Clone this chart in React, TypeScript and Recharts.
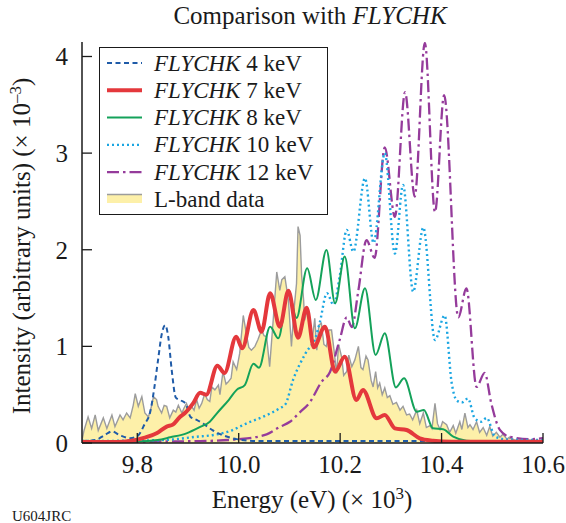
import React from "react";
import { ComposedChart, Line, Area, XAxis, YAxis, Legend } from "recharts";

const energyTicks = [9.8, 10.0, 10.2, 10.4, 10.6];
const intensityTicks = [0, 1, 2, 3, 4];

// L-band measurement, [energy (keV), intensity (x1e-3)]
const lBand: [number, number][] = [
  [9.691, 0.03], [9.695, 0.13], [9.703, 0.27], [9.71, 0.15], [9.717, 0.29], [9.723, 0.13],
  [9.733, 0.26], [9.74, 0.15], [9.75, 0.29], [9.756, 0.17], [9.766, 0.29], [9.772, 0.24],
  [9.779, 0.31], [9.786, 0.26], [9.792, 0.39], [9.796, 0.51], [9.802, 0.38], [9.809, 0.48],
  [9.815, 0.31], [9.822, 0.27], [9.828, 0.38], [9.832, 0.48], [9.838, 0.45], [9.841, 0.38],
  [9.848, 0.31], [9.853, 0.39], [9.858, 0.38], [9.864, 0.26], [9.871, 0.34], [9.876, 0.32],
  [9.881, 0.39], [9.888, 0.31], [9.892, 0.36], [9.897, 0.41], [9.902, 0.34], [9.907, 0.38],
  [9.912, 0.34], [9.917, 0.45], [9.922, 0.36], [9.927, 0.41], [9.933, 0.51], [9.938, 0.45],
  [9.943, 0.43], [9.947, 0.58], [9.953, 0.55], [9.96, 0.6], [9.963, 0.5], [9.969, 0.74],
  [9.975, 0.61], [9.979, 0.63], [9.985, 0.67], [9.989, 0.84], [9.996, 0.76], [10.002, 0.93],
  [10.009, 1.32], [10.016, 1.1], [10.02, 0.99], [10.025, 0.96], [10.032, 1.0], [10.038, 1.07],
  [10.045, 1.17], [10.05, 1.11], [10.055, 1.1], [10.061, 0.79], [10.068, 1.27], [10.075, 1.77],
  [10.081, 1.58], [10.085, 1.69], [10.091, 1.72], [10.098, 1.48], [10.104, 1.0], [10.109, 1.38],
  [10.114, 1.65], [10.117, 2.24], [10.121, 2.15], [10.124, 1.74], [10.128, 1.48], [10.13, 1.27],
  [10.134, 1.36], [10.14, 1.25], [10.145, 1.07], [10.15, 1.29], [10.154, 0.96], [10.158, 1.22],
  [10.163, 1.24], [10.168, 1.02], [10.173, 1.0], [10.178, 1.17], [10.183, 1.17], [10.188, 0.96],
  [10.193, 0.72], [10.197, 1.02], [10.203, 0.89], [10.207, 0.7], [10.213, 0.74], [10.217, 0.91],
  [10.223, 0.79], [10.229, 0.86], [10.236, 1.0], [10.241, 0.78], [10.245, 0.76], [10.251, 0.9],
  [10.255, 0.86], [10.261, 0.65], [10.265, 0.58], [10.27, 0.74], [10.274, 0.57], [10.278, 0.62],
  [10.283, 0.5], [10.288, 0.57], [10.293, 0.47], [10.298, 0.49], [10.304, 0.4], [10.311, 0.42],
  [10.318, 0.34], [10.324, 0.38], [10.331, 0.29], [10.337, 0.3], [10.343, 0.24], [10.351, 0.34],
  [10.357, 0.2], [10.364, 0.31], [10.37, 0.16], [10.377, 0.18], [10.381, 0.15], [10.387, 0.41],
  [10.392, 0.2], [10.397, 0.14], [10.402, 0.22], [10.41, 0.19], [10.416, 0.11], [10.423, 0.18],
  [10.428, 0.1], [10.436, 0.22], [10.44, 0.14], [10.446, 0.31], [10.452, 0.16], [10.456, 0.19],
  [10.462, 0.14], [10.469, 0.22], [10.475, 0.11], [10.482, 0.16], [10.489, 0.08], [10.495, 0.17],
  [10.501, 0.07], [10.508, 0.11], [10.515, 0.06], [10.521, 0.09], [10.529, 0.04], [10.534, 0.06],
  [10.544, 0.03], [10.554, 0.03], [10.574, 0.03], [10.6, 0.02],
];

// FLYCHK model spectra
const flychk4: [number, number][] = [
  [9.691, 0.02], [9.717, 0.03], [9.735, 0.08], [9.75, 0.12], [9.766, 0.08], [9.786, 0.05],
  [9.8, 0.07], [9.815, 0.2], [9.825, 0.31], [9.833, 0.55], [9.841, 0.86], [9.848, 1.12],
  [9.855, 1.22], [9.861, 1.1], [9.868, 0.75], [9.876, 0.47], [9.886, 0.44], [9.895, 0.41],
  [9.905, 0.27], [9.917, 0.24], [9.93, 0.2], [9.949, 0.13], [9.969, 0.08], [9.996, 0.04],
  [10.04, 0.02], [10.6, 0.02],
];

const flychk7: [number, number][] = [
  [9.691, 0.01], [9.76, 0.01], [9.786, 0.02], [9.811, 0.05], [9.838, 0.1], [9.858, 0.17],
  [9.87, 0.19], [9.884, 0.27], [9.894, 0.31], [9.91, 0.41], [9.924, 0.52], [9.936, 0.5],
  [9.958, 0.8], [9.972, 0.725], [9.995, 1.1], [10.007, 0.98], [10.029, 1.377], [10.045, 1.152],
  [10.062, 1.55], [10.081, 1.204], [10.098, 1.575], [10.117, 1.09], [10.134, 1.4], [10.148, 0.99],
  [10.17, 1.204], [10.19, 0.738], [10.209, 0.893], [10.232, 0.445], [10.245, 0.549], [10.272, 0.256],
  [10.288, 0.29], [10.308, 0.152], [10.331, 0.135], [10.357, 0.049], [10.383, 0.024], [10.42, 0.012],
  [10.6, 0.012],
];

const flychk8: [number, number][] = [
  [9.691, 0.01], [9.8, 0.015], [9.84, 0.03], [9.865, 0.059], [9.897, 0.1], [9.924, 0.166],
  [9.943, 0.22], [9.957, 0.307], [9.981, 0.45], [9.996, 0.55], [10.012, 0.6], [10.029, 0.82],
  [10.04, 0.78], [10.062, 1.204], [10.078, 1.084], [10.098, 1.566], [10.114, 1.294], [10.135, 1.808],
  [10.152, 1.48], [10.173, 1.998], [10.19, 1.446], [10.209, 1.929], [10.229, 1.187], [10.249, 1.601],
  [10.27, 0.911], [10.288, 1.136], [10.31, 0.575], [10.326, 0.67], [10.351, 0.324], [10.365, 0.342],
  [10.383, 0.152], [10.403, 0.142], [10.423, 0.065], [10.449, 0.024], [10.5, 0.015], [10.6, 0.015],
];

const flychk10: [number, number][] = [
  [9.691, 0.02], [9.85, 0.03], [9.917, 0.065], [9.95, 0.083], [9.983, 0.124], [10.016, 0.204],
  [10.048, 0.272], [10.081, 0.36], [10.092, 0.4], [10.107, 0.65], [10.132, 0.93], [10.152, 1.1],
  [10.16, 1.25], [10.174, 1.55], [10.187, 1.43], [10.199, 1.72], [10.213, 2.205], [10.226, 1.98],
  [10.249, 2.74], [10.266, 2.07], [10.288, 3.0], [10.308, 1.96], [10.324, 2.67], [10.344, 1.566],
  [10.364, 2.23], [10.387, 1.066], [10.406, 1.32], [10.42, 0.62], [10.43, 0.44], [10.44, 0.42],
  [10.452, 0.46], [10.465, 0.26], [10.478, 0.22], [10.489, 0.26], [10.505, 0.07], [10.53, 0.035],
  [10.6, 0.03],
];

const flychk12: [number, number][] = [
  [9.691, 0.01], [9.825, 0.015], [9.924, 0.02], [10.002, 0.04], [10.055, 0.09], [10.081, 0.166],
  [10.101, 0.22], [10.121, 0.32], [10.14, 0.42], [10.163, 0.63], [10.18, 0.735], [10.199, 1.066],
  [10.213, 1.3], [10.223, 1.2], [10.236, 1.58], [10.252, 2.1], [10.268, 1.915], [10.288, 3.06],
  [10.308, 2.34], [10.328, 3.63], [10.347, 2.55], [10.367, 4.14], [10.387, 2.39], [10.405, 3.6],
  [10.433, 1.3], [10.449, 1.6], [10.469, 0.58], [10.485, 0.725], [10.498, 0.41], [10.515, 0.135],
  [10.534, 0.065], [10.574, 0.04], [10.6, 0.05],
];

const toRows = (pts: [number, number][]) => pts.map(([e, v]) => ({ e, v }));

const SERIF = "'Liberation Serif', 'Times New Roman', serif";
const INK = "#1a1a1a";
const LBAND_FILL = "#fdf0a9";
const LBAND_LINE = "#9c9c9c";

const models = [
  { name: "4 keV", pts: flychk4, color: "#1f5ba8", width: 2, dash: "5 3.5" },
  { name: "7 keV", pts: flychk7, color: "#e4383c", width: 4, dash: undefined },
  { name: "8 keV", pts: flychk8, color: "#14a25a", width: 2, dash: undefined },
  { name: "10 keV", pts: flychk10, color: "#1ba6e2", width: 2.4, dash: "2 3" },
  { name: "12 keV", pts: flychk12, color: "#953b9b", width: 2.3, dash: "12 4 2.5 4" },
];
// drawing order: thick red last so it sits on top
const drawOrder = [4, 3, 0, 2, 1];

function LegendBox() {
  const rowY = (i: number) => 15 + i * 27.3;
  return (
    <div
      style={{
        width: 229,
        height: 168,
        boxSizing: "border-box",
        border: `1.5px solid ${INK}`,
        background: "#fff",
      }}
    >
      <svg width={226} height={165} style={{ display: "block" }}>
        {models.map((m, i) => (
          <g key={m.name}>
            <line
              x1={7}
              x2={42}
              y1={rowY(i)}
              y2={rowY(i)}
              stroke={m.color}
              strokeWidth={m.width}
              strokeDasharray={m.dash}
            />
            <text x={54} y={rowY(i) + 7.5} fontFamily={SERIF} fontSize={23} fill={INK}>
              <tspan fontStyle="italic">FLYCHK</tspan> {m.name}
            </text>
          </g>
        ))}
        <rect x={7} y={rowY(5) - 5} width={35} height={8.5} fill={LBAND_FILL} />
        <line x1={7} x2={42} y1={rowY(5) - 5} y2={rowY(5) - 5} stroke={LBAND_LINE} strokeWidth={1.5} />
        <text x={54} y={rowY(5) + 7.5} fontFamily={SERIF} fontSize={23} fill={INK}>
          L-band data
        </text>
      </svg>
    </div>
  );
}

export default function App() {
  const tickStyle = { fontFamily: SERIF, fontSize: 25, fill: INK };
  const axisLine = { stroke: INK, strokeWidth: 1.5 };
  const tickLine = { stroke: INK, strokeWidth: 1.3 };

  return (
    <div style={{ position: "absolute", left: 0, top: 0, width: 566, height: 523, background: "#fff" }}>
      <ComposedChart width={566} height={523} margin={{ top: 42, right: 23, bottom: 40, left: 22 }}>
        <XAxis
          type="number"
          dataKey="e"
          domain={[9.691, 10.6]}
          ticks={energyTicks}
          interval={0}
          allowDataOverflow
          tickFormatter={(v: number) => v.toFixed(1)}
          tickSize={-10}
          tickMargin={22}
          height={40}
          axisLine={axisLine}
          tickLine={tickLine}
          tick={tickStyle}
        />
        <XAxis
          xAxisId="top"
          orientation="top"
          type="number"
          domain={[9.691, 10.6]}
          height={0}
          tick={false}
          tickLine={false}
          axisLine={axisLine}
        />
        <YAxis
          type="number"
          domain={[0, 4.15]}
          ticks={intensityTicks}
          interval={0}
          allowDataOverflow
          tickSize={-10}
          tickMargin={24}
          width={60}
          axisLine={axisLine}
          tickLine={tickLine}
          tick={tickStyle}
        />
        <YAxis
          yAxisId="right"
          orientation="right"
          type="number"
          domain={[0, 4.15]}
          ticks={intensityTicks}
          interval={0}
          tickSize={-10}
          width={0}
          tickFormatter={() => ""}
          axisLine={axisLine}
          tickLine={tickLine}
        />
        <Area
          data={toRows(lBand)}
          dataKey="v"
          type="linear"
          stroke={LBAND_LINE}
          strokeWidth={1.4}
          fill={LBAND_FILL}
          fillOpacity={1}
          isAnimationActive={false}
          dot={false}
          activeDot={false}
        />
        {drawOrder.map((idx) => {
          const m = models[idx];
          return (
            <Line
              key={m.name}
              data={toRows(m.pts)}
              dataKey="v"
              type="monotone"
              stroke={m.color}
              strokeWidth={m.width}
              strokeDasharray={m.dash}
              dot={false}
              activeDot={false}
              isAnimationActive={false}
            />
          );
        })}
        <Legend
          layout="horizontal"
          verticalAlign="middle"
          align="center"
          content={() => <LegendBox />}
          wrapperStyle={{ left: 99, top: 47, width: 229, height: 168 }}
        />
      </ComposedChart>
      <svg
        width={566}
        height={523}
        style={{ position: "absolute", left: 0, top: 0, pointerEvents: "none" }}
      >
        <text x={310} y={24} textAnchor="middle" fontFamily={SERIF} fontSize={25} fill={INK}>
          Comparison with <tspan fontStyle="italic">FLYCHK</tspan>
        </text>
        <text
          x={30}
          y={246}
          transform="rotate(-90 30 246)"
          textAnchor="middle"
          fontFamily={SERIF}
          fontSize={25}
          fill={INK}
        >
          Intensity (arbitrary units) (× 10
          <tspan dy={-9} fontSize={17}>–3</tspan>
          <tspan dy={9}>)</tspan>
        </text>
        <text x={312} y={508} textAnchor="middle" fontFamily={SERIF} fontSize={25} fill={INK}>
          Energy (eV) (× 10
          <tspan dy={-9} fontSize={17}>3</tspan>
          <tspan dy={9}>)</tspan>
        </text>
        <text x={12} y={521} fontFamily={SERIF} fontSize={15} fill={INK}>
          U604JRC
        </text>
      </svg>
    </div>
  );
}
